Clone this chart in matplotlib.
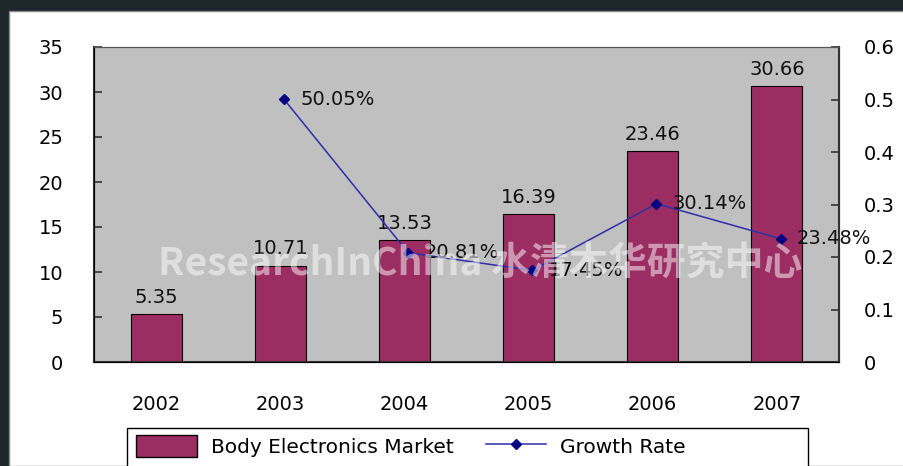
import matplotlib
matplotlib.use("Agg")
import matplotlib.pyplot as plt
from matplotlib.patches import Rectangle, Patch
from matplotlib.lines import Line2D
import numpy as np

# data
years = ["2002", "2003", "2004", "2005", "2006", "2007"]
market = [5.35, 10.71, 13.53, 16.39, 23.46, 30.66]
growth_years = ["2003", "2004", "2005", "2006", "2007"]
growth = [0.5005, 0.2081, 0.1745, 0.3014, 0.2348]
growth_labels = ["50.05%", "20.81%", "17.45%", "30.14%", "23.48%"]

bar_color = "#9B2D62"
line_color = "#2E2EA8"
marker_color = "#000080"
plot_bg = "#C0C0C0"
dark = "#1D272B"

fig = plt.figure(figsize=(9.04, 4.66), dpi=100)
fig.patch.set_facecolor(dark)

# white card inside the dark frame
W, H = 904, 466
card = Rectangle((9 / W, 0), 1 - 9 / W, 1 - 11 / H, transform=fig.transFigure,
                 facecolor="white", edgecolor="#888888", linewidth=1.0, zorder=-2)
fig.patches.append(card)

ax = fig.add_axes([94 / W, 1 - 362 / H, 745 / W, 315 / H])
ax.set_facecolor(plot_bg)
x = np.arange(len(years))
bars = ax.bar(x, market, width=0.41, color=bar_color, edgecolor="black", linewidth=0.8, zorder=2)
ax.set_xlim(-0.5, len(years) - 0.5)
ax.set_ylim(0, 35)
ax.set_yticks(np.arange(0, 36, 5))
ax.set_xticks(x)
ax.set_xticklabels(years)
ax.tick_params(axis="x", length=0, pad=24, labelsize=14)
ax.tick_params(axis="y", direction="in", length=6, width=1.2, pad=22, labelsize=14, color="#333333")
for s in ax.spines.values():
    s.set_color("#555555")
ax.spines["left"].set_linewidth(1.5)
ax.spines["bottom"].set_linewidth(1.5)
ax.spines["left"].set_color("#333333")
ax.spines["bottom"].set_color("#333333")

for xi, v in zip(x, market):
    ax.text(xi, v + 0.8, f"{v:.2f}", ha="center", va="bottom", fontsize=14, color="#111111", zorder=5)

ax2 = ax.twinx()
ax2.set_ylim(0, 0.6)
ax2.set_yticks([0, 0.1, 0.2, 0.3, 0.4, 0.5, 0.6])
ax2.set_yticklabels(["0", "0.1", "0.2", "0.3", "0.4", "0.5", "0.6"])
ax2.tick_params(axis="y", direction="in", length=6, width=1.2, pad=18, labelsize=14, color="#333333")
ax2.spines["right"].set_color("#333333")
ax2.spines["right"].set_linewidth(1.5)
ax2.spines["top"].set_color("#555555")
gx = [years.index(y) + 0.03 for y in growth_years]
ax2.plot(gx, growth, color=line_color, linewidth=1.1, marker="D", markersize=5,
         markerfacecolor=marker_color, markeredgecolor=marker_color, zorder=4)
for xi, v, lab in zip(gx, growth, growth_labels):
    ax2.text(xi + 0.13, v, lab, ha="left", va="center", fontsize=14, color="#111111", zorder=5)

# watermark
fig.text(158 / W, 1 - 264 / H, "ResearchInChina 水清木华研究中心", fontsize=28,
         family=["Liberation Sans Narrow", "Noto Sans CJK SC", "DejaVu Sans"], fontweight="bold",
         color="white", alpha=0.5, ha="left", va="center", zorder=10)

# legend box
box = Rectangle((127 / W, -0.02), (808 - 127) / W, (1 - 428 / H) + 0.02, transform=fig.transFigure,
                facecolor="white", edgecolor="black", linewidth=1.0, zorder=-1)
fig.patches.append(box)
handles = [Patch(facecolor=bar_color, edgecolor="black", label="Body Electronics Market"),
           Line2D([], [], color=line_color, marker="D", markersize=5, markerfacecolor=marker_color,
                  markeredgecolor=marker_color, linewidth=1.1, label="Growth Rate")]
fig.legend(handles=handles, loc="center left", bbox_to_anchor=(118 / W, 1 - 446 / H), ncol=2,
           frameon=False, fontsize=14.5, handlelength=3.0, handleheight=1.3, columnspacing=1.6,
           handletextpad=0.7)

fig.savefig("out.png", dpi=100, facecolor=fig.get_facecolor())
